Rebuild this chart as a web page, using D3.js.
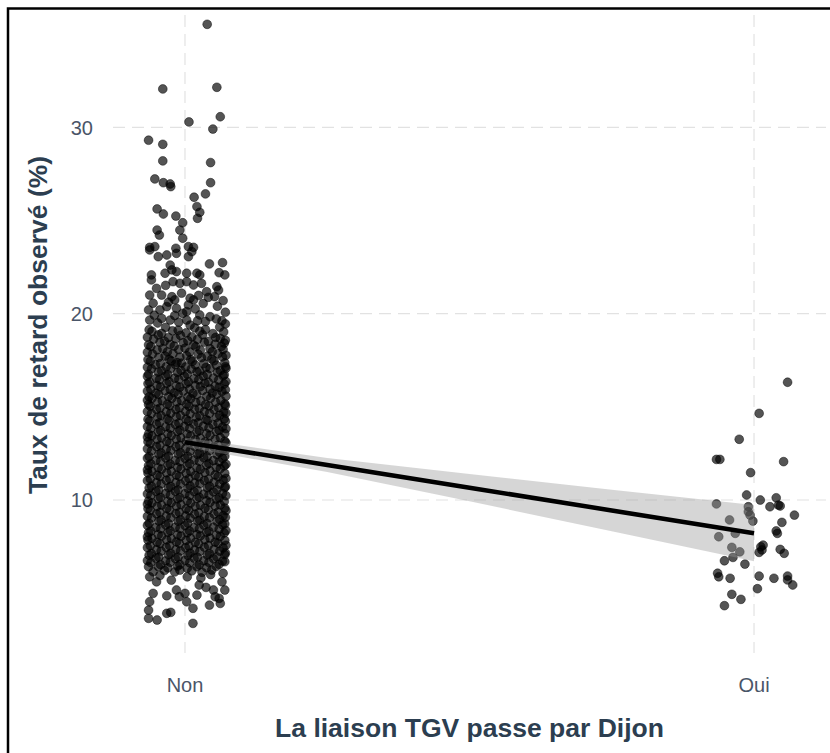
<!DOCTYPE html>
<html>
<head>
<meta charset="utf-8">
<script src="https://cdn.jsdelivr.net/npm/d3@7"></script>
<style>
  html, body { margin: 0; padding: 0; background: #fff; }
</style>
</head>
<body>
<div id="chart"></div>
<script>
// categories on the x axis (0 = Non, 1 = Oui)
var categories = ["Non", "Oui"];
var categoryX = [0, 1];
var yTicks = [10, 20, 30];

// jittered points, [x offset, taux de retard] -- Non, sparse upper tail
var nonUpper = [
  [0.039,35.53],[-0.039,32.06],[0.056,32.15],[0.062,30.57],[0.007,30.29],[0.049,29.91],[-0.064,29.31],[-0.039,29.09],
  [-0.039,28.2],[0.045,28.11],[-0.053,27.23],[-0.038,27.03],[-0.026,26.96],[-0.025,26.82],[0.045,27.03],[0.036,26.43],
  [0.016,26.25],[0.021,25.75],[0.026,25.44],[0.022,25.12],[-0.049,25.62],[-0.038,25.35],[-0.016,25.24],[-0.004,24.88],
  [-0.049,24.49],[-0.045,24.22],[-0.009,24.49],[-0.004,24.05],[-0.062,23.56],[-0.053,23.6],[-0.016,23.51],[0.006,23.6],
  [0.015,23.56],[-0.062,23.42],[-0.047,23.06],[-0.032,23.15],[-0.015,23.24],[0.006,23.06],[0.012,23.33],[-0.026,22.61],
  [-0.023,22.35],[0.043,22.67],[0.066,22.74],[-0.059,22.08],[-0.059,21.81],[-0.035,22.17],[-0.015,22.26],[0.003,22.17],
  [0.021,22.17],[0.026,22.08],[0.06,22.2],[0.07,22.08],[-0.021,21.72],[-0.009,21.63],[0.003,21.72],[0.015,21.54],
  [0.029,21.63],[0.056,21.45],[0.059,21.27],[-0.062,21.0],[-0.041,21.0],[-0.023,20.91],[-0.018,20.74],[0.009,20.83],
  [0.015,20.74],[0.041,20.88],[0.067,20.7],[-0.056,20.56],[-0.064,20.2],[-0.044,20.2],[-0.032,20.38],[-0.015,20.29],
  [0.006,20.47],[0.003,20.11],[0.026,19.93],[0.044,19.84],[0.065,19.62],[-0.062,19.66],[-0.041,19.75],[-0.026,19.66],
  [0.003,19.66],[0.009,19.39],
  // transition into the dense part
  [-0.05,21.36],[-0.034,21.52],[0.038,21.18],[-0.006,21.1],[0.024,20.98],[0.052,20.92],[-0.029,20.62],[0.032,20.55],
  [0.057,20.4],[-0.004,20.02],[0.018,20.26],[0.071,20.08],[-0.054,19.92],[-0.018,19.9],[0.036,19.58],[0.055,19.72],
  [-0.048,19.5],[-0.011,19.55],[0.071,19.45],[0.022,19.62]
];

// Non, dense core (estimated from the solid part of the cloud)
var nonCore = [
  [-0.063,19.14],[-0.034,19.27],[-0.012,19.11],[0.017,19.24],[0.036,19.15],[0.061,19.28],
  [-0.058,19.05],[-0.041,18.94],[-0.022,19.08],[0.002,18.97],[0.026,19.06],[0.049,18.93],[0.068,19.02],
  [-0.066,18.74],[-0.047,18.86],[-0.029,18.72],[-0.008,18.84],[0.012,18.76],[0.031,18.87],[0.054,18.73],
  [-0.055,18.64],[-0.036,18.53],[-0.016,18.66],[0.005,18.55],[0.022,18.62],[0.041,18.51],[0.062,18.67],[0.071,18.57],
  [-0.064,18.33],[-0.044,18.46],[-0.026,18.35],[-0.003,18.44],[0.015,18.32],[0.034,18.47],[0.053,18.36],[0.069,18.42],
  [-0.06,18.24],[-0.039,18.13],[-0.019,18.26],[0.0,18.15],[0.019,18.23],[0.044,18.12],[0.064,18.25],
  [-0.066,17.93],[-0.049,18.06],[-0.031,17.95],[-0.011,18.07],[0.008,17.94],[0.027,18.05],[0.048,17.96],[0.067,18.08],
  [-0.057,17.84],[-0.035,17.73],[-0.021,17.86],[0.003,17.75],[0.023,17.83],[0.039,17.72],[0.058,17.85],[0.072,17.76],
  [-0.065,17.54],[-0.046,17.66],[-0.028,17.55],[-0.009,17.67],[0.01,17.53],[0.029,17.64],[0.047,17.56],[0.066,17.68],
  [-0.061,17.45],[-0.043,17.33],[-0.024,17.46],[-0.006,17.35],[0.013,17.44],[0.033,17.32],[0.051,17.47],[0.07,17.36],[-0.014,17.38],
  [-0.066,17.13],[-0.052,17.26],[-0.033,17.15],[-0.017,17.27],[0.001,17.14],[0.018,17.25],[0.037,17.12],[0.055,17.24],[0.071,17.16],
  [-0.059,17.04],[-0.041,16.93],[-0.025,17.06],[-0.007,16.95],[0.011,17.03],[0.026,16.92],[0.044,17.05],[0.062,16.94],[0.072,17.07],
  [-0.064,16.75],[-0.047,16.87],[-0.03,16.73],[-0.013,16.85],[0.004,16.76],[0.021,16.88],[0.039,16.74],[0.057,16.86],[0.069,16.72],
  [-0.066,16.64],[-0.05,16.53],[-0.034,16.66],[-0.018,16.54],[-0.001,16.63],[0.016,16.51],[0.032,16.65],[0.05,16.55],[0.067,16.67],
  [-0.062,16.33],[-0.045,16.46],[-0.028,16.35],[-0.011,16.47],[0.006,16.34],[0.024,16.45],[0.041,16.32],[0.059,16.44],[0.072,16.36],
  [-0.065,16.25],[-0.049,16.14],[-0.032,16.26],[-0.015,16.13],[0.002,16.24],[0.018,16.15],[0.035,16.27],[0.053,16.12],[0.069,16.23],
  [-0.06,15.94],[-0.043,16.07],[-0.026,15.93],[-0.009,16.06],[0.008,15.95],[0.027,16.08],[0.044,15.96],[0.06,16.05],[0.071,15.92],
  [-0.066,15.85],[-0.051,15.73],[-0.035,15.86],[-0.019,15.75],[-0.003,15.84],[0.014,15.72],[0.031,15.87],[0.048,15.74],[0.065,15.83],
  [-0.063,15.54],[-0.046,15.66],[-0.029,15.55],[-0.012,15.67],[0.005,15.53],[0.021,15.65],[0.038,15.56],[0.056,15.68],[0.072,15.57],
  [-0.058,15.45],[-0.04,15.33],[-0.023,15.46],[-0.006,15.34],[0.01,15.44],[0.028,15.32],[0.045,15.47],[0.063,15.35],[-0.066,15.36],
  [-0.064,15.13],[-0.048,15.26],[-0.031,15.14],[-0.014,15.27],[0.003,15.15],[0.019,15.24],[0.036,15.12],[0.054,15.25],[0.07,15.16],
  [-0.061,15.04],[-0.044,14.93],[-0.027,15.06],[-0.01,14.94],[0.007,15.03],[0.025,14.92],[0.042,15.05],[0.059,14.95],[0.071,15.07],
  [-0.066,14.75],[-0.05,14.87],[-0.033,14.73],[-0.016,14.86],[0.001,14.76],[0.017,14.88],[0.034,14.74],[0.051,14.85],[0.068,14.72],
  [-0.059,14.64],[-0.042,14.53],[-0.025,14.66],[-0.008,14.54],[0.009,14.63],[0.026,14.52],[0.043,14.65],[0.061,14.55],[0.072,14.67],
  [-0.065,14.33],[-0.048,14.46],[-0.031,14.35],[-0.015,14.47],[0.002,14.34],[0.02,14.45],[0.037,14.32],[0.055,14.44],[0.069,14.36],
  [-0.062,14.25],[-0.045,14.14],[-0.028,14.26],[-0.011,14.13],[0.006,14.24],[0.023,14.15],[0.04,14.27],[0.058,14.12],[0.071,14.23],
  [-0.066,13.94],[-0.05,14.07],[-0.034,13.93],[-0.017,14.06],[-0.001,13.95],[0.015,14.08],[0.032,13.96],[0.049,14.05],[0.066,13.92],
  [-0.06,13.85],[-0.043,13.73],[-0.026,13.86],[-0.009,13.75],[0.008,13.84],[0.025,13.72],[0.042,13.87],[0.06,13.74],[0.072,13.83],
  [-0.064,13.54],[-0.047,13.66],[-0.03,13.55],[-0.013,13.67],[0.004,13.53],[0.021,13.65],[0.038,13.56],[0.055,13.68],[0.07,13.57],
  [-0.058,13.45],[-0.041,13.33],[-0.024,13.46],[-0.007,13.34],[0.01,13.44],[0.027,13.32],[0.044,13.47],[0.062,13.35],[-0.066,13.38],
  [-0.065,13.13],[-0.049,13.26],[-0.032,13.14],[-0.015,13.27],[0.002,13.15],[0.018,13.24],[0.035,13.12],[0.053,13.25],[0.07,13.16],
  [-0.061,13.04],[-0.044,12.93],[-0.027,13.06],[-0.01,12.94],[0.007,13.03],[0.024,12.92],[0.041,13.05],[0.058,12.95],[0.072,13.07],
  [-0.066,12.75],[-0.05,12.87],[-0.033,12.73],[-0.016,12.86],[0.001,12.76],[0.017,12.88],[0.034,12.74],[0.051,12.85],[0.067,12.72],
  [-0.059,12.64],[-0.042,12.53],[-0.025,12.66],[-0.008,12.54],[0.009,12.63],[0.026,12.52],[0.043,12.65],[0.061,12.55],[0.071,12.67],
  [-0.063,12.33],[-0.046,12.46],[-0.029,12.35],[-0.012,12.47],[0.005,12.34],[0.022,12.45],[0.039,12.32],[0.056,12.44],[0.07,12.36],
  [-0.066,12.25],[-0.051,12.14],[-0.034,12.26],[-0.017,12.13],[0.0,12.24],[0.016,12.15],[0.033,12.27],[0.05,12.12],[0.066,12.23],
  [-0.06,11.94],[-0.043,12.07],[-0.026,11.93],[-0.009,12.06],[0.008,11.95],[0.025,12.08],[0.042,11.96],[0.06,12.05],[0.072,11.92],
  [-0.064,11.85],[-0.047,11.73],[-0.03,11.86],[-0.013,11.75],[0.004,11.84],[0.021,11.72],[0.038,11.87],[0.055,11.74],[0.069,11.83],
  [-0.058,11.54],[-0.041,11.66],[-0.024,11.55],[-0.007,11.67],[0.01,11.53],[0.027,11.65],[0.044,11.56],[0.062,11.68],[-0.066,11.62],
  [-0.065,11.45],[-0.049,11.33],[-0.032,11.46],[-0.015,11.34],[0.002,11.44],[0.018,11.32],[0.035,11.47],[0.053,11.35],[0.07,11.43],
  [-0.061,11.13],[-0.044,11.26],[-0.027,11.14],[-0.01,11.27],[0.007,11.15],[0.024,11.24],[0.041,11.12],[0.058,11.25],[0.072,11.16],
  [-0.066,11.04],[-0.05,10.93],[-0.033,11.06],[-0.016,10.94],[0.001,11.03],[0.017,10.92],[0.034,11.05],[0.051,10.95],[0.067,11.07],
  [-0.059,10.75],[-0.042,10.87],[-0.025,10.73],[-0.008,10.86],[0.009,10.76],[0.026,10.88],[0.043,10.74],[0.061,10.85],[0.071,10.72],
  [-0.063,10.64],[-0.046,10.53],[-0.029,10.66],[-0.012,10.54],[0.005,10.63],[0.022,10.52],[0.039,10.65],[0.056,10.55],[0.07,10.67],
  [-0.066,10.33],[-0.051,10.46],[-0.034,10.35],[-0.017,10.47],[0.0,10.34],[0.016,10.45],[0.033,10.32],[0.05,10.44],[0.066,10.36],
  [-0.06,10.25],[-0.043,10.14],[-0.026,10.26],[-0.009,10.13],[0.008,10.24],[0.025,10.15],[0.042,10.27],[0.06,10.12],[0.072,10.23],
  [-0.064,9.94],[-0.047,10.07],[-0.03,9.93],[-0.013,10.06],[0.004,9.95],[0.021,10.08],[0.038,9.96],[0.055,10.05],[0.069,9.92],
  [-0.058,9.85],[-0.041,9.73],[-0.024,9.86],[-0.007,9.75],[0.01,9.84],[0.027,9.72],[0.044,9.87],[0.062,9.74],[-0.066,9.78],
  [-0.065,9.54],[-0.049,9.66],[-0.032,9.55],[-0.015,9.67],[0.002,9.53],[0.018,9.65],[0.035,9.56],[0.053,9.68],[0.07,9.57],
  [-0.061,9.45],[-0.044,9.33],[-0.027,9.46],[-0.01,9.34],[0.007,9.44],[0.024,9.32],[0.041,9.47],[0.058,9.35],[0.072,9.43],
  [-0.066,9.13],[-0.05,9.26],[-0.033,9.14],[-0.016,9.27],[0.001,9.15],[0.017,9.24],[0.034,9.12],[0.051,9.25],[0.067,9.16],
  [-0.059,9.04],[-0.042,8.93],[-0.025,9.06],[-0.008,8.94],[0.009,9.03],[0.026,8.92],[0.043,9.05],[0.061,8.95],[0.071,9.07],
  [-0.063,8.75],[-0.046,8.87],[-0.029,8.73],[-0.012,8.86],[0.005,8.76],[0.022,8.88],[0.039,8.74],[0.056,8.85],[0.07,8.72],
  [-0.066,8.64],[-0.051,8.53],[-0.034,8.66],[-0.017,8.54],[0.0,8.63],[0.016,8.52],[0.033,8.65],[0.05,8.55],[0.066,8.67],
  [-0.06,8.33],[-0.043,8.46],[-0.026,8.35],[-0.009,8.47],[0.008,8.34],[0.025,8.45],[0.042,8.32],[0.06,8.44],[0.072,8.36],
  [-0.064,8.25],[-0.047,8.14],[-0.03,8.26],[-0.013,8.13],[0.004,8.24],[0.021,8.15],[0.038,8.27],[0.055,8.12],[0.069,8.23],
  [-0.058,7.94],[-0.041,8.07],[-0.024,7.93],[-0.007,8.06],[0.01,7.95],[0.027,8.08],[0.044,7.96],[0.062,8.05],[-0.066,8.02],
  [-0.065,7.85],[-0.049,7.73],[-0.032,7.86],[-0.015,7.75],[0.002,7.84],[0.018,7.72],[0.035,7.87],[0.053,7.74],[0.07,7.83],
  [-0.061,7.54],[-0.044,7.66],[-0.027,7.55],[-0.01,7.67],[0.007,7.53],[0.024,7.65],[0.041,7.56],[0.058,7.68],[0.072,7.57],
  [-0.066,7.45],[-0.05,7.33],[-0.033,7.46],[-0.016,7.34],[0.001,7.44],[0.017,7.32],[0.034,7.47],[0.051,7.35],[0.067,7.43],
  [-0.059,7.13],[-0.042,7.26],[-0.025,7.14],[-0.008,7.27],[0.009,7.15],[0.026,7.24],[0.043,7.12],[0.061,7.25],[0.071,7.16],
  [-0.063,7.04],[-0.046,6.93],[-0.029,7.06],[-0.012,6.94],[0.005,7.03],[0.022,6.92],[0.039,7.05],[0.056,6.95],[0.07,7.07],
  [-0.066,6.75],[-0.051,6.87],[-0.034,6.73],[-0.017,6.86],[0.0,6.76],[0.016,6.88],[0.033,6.74],[0.05,6.85],[0.066,6.72],
  [-0.06,6.64],[-0.043,6.53],[-0.026,6.66],[-0.009,6.54],[0.008,6.63],[0.025,6.52],[0.042,6.65],[0.06,6.55],
  [-0.047,6.43],[-0.03,6.36],[-0.013,6.45],[0.004,6.34],[0.021,6.42],[0.038,6.37],[0.055,6.44],
  [-0.036,6.22],[-0.018,6.14],[0.012,6.2],[0.03,6.12],[0.047,6.24]
];

// Non, sparse lower tail
var nonLower = [
  [0.014,3.38],[-0.049,3.56],[-0.064,3.65],[-0.064,4.09],[-0.032,3.92],[-0.025,3.97],[-0.062,4.54],[-0.056,4.99],
  [-0.032,4.86],[0.014,4.19],[-0.01,4.81],[0.003,4.54],[0.043,4.36],[0.062,4.45],[0.06,4.72],[0.025,5.44],
  [0.037,5.31],[0.021,4.9],[0.05,5.17],[0.065,5.61],[0.07,5.17],[0.053,4.81],[-0.015,5.17],[0.0,4.99],
  [-0.062,5.88],[-0.05,5.61],[-0.064,6.42],[-0.056,6.15],[-0.009,6.24],[0.004,5.88],[0.067,6.07],[0.07,6.69],
  [-0.044,5.95],[0.028,5.82],[0.045,6.0],[-0.024,5.7]
];

// Oui
var ouiPoints = [
  [0.059,16.32],[0.009,14.65],[-0.026,13.26],[-0.066,12.18],[-0.06,12.18],[0.052,12.06],[-0.006,11.47],[-0.013,10.27],
  [0.011,10.0],[0.039,10.12],[0.043,9.73],[0.028,9.64],[0.046,9.68],[-0.066,9.79],[-0.01,9.64],[-0.01,9.37],
  [-0.007,9.19],[0.071,9.19],[-0.002,8.87],[-0.043,8.93],[0.049,8.8],[-0.033,8.21],[0.039,8.34],[0.041,8.21],
  [-0.062,8.03],[-0.039,7.46],[-0.025,7.22],[-0.037,6.92],[-0.052,6.74],[0.012,7.49],[0.014,7.32],[0.009,7.19],
  [0.016,7.58],[0.046,7.35],[0.053,7.14],[-0.016,6.56],[-0.064,6.07],[-0.062,5.88],[-0.042,5.8],[0.009,5.92],
  [0.035,5.8],[0.059,5.92],[0.059,5.71],[0.068,5.44],[0.006,5.24],[-0.039,4.94],[-0.023,4.67],[-0.052,4.33]
];

// linear fit and its confidence band
var fitX = [0, 0.25, 0.5, 0.75, 1];
var fitY = [13.1, 11.88, 10.66, 9.44, 8.22];
var fitLower = [12.85, 11.5, 9.93, 8.33, 6.71];
var fitUpper = [13.35, 12.26, 11.39, 10.55, 9.73];

var plotVariables = ({
  width: 830,
  height: 753,
  panelLeft: 113,
  panelRight: 826,
  panelTop: 15,
  panelBottom: 653,
  font: "'Liberation Sans', Arial, Helvetica, sans-serif",
  tickColor: "#4a5568",
  titleColor: "#2c3e50",
  gridColor: "#e2e2e2"
});

var svg = d3.select('#chart').append('svg')
  .attr('width', plotVariables.width)
  .attr('height', plotVariables.height);

// frame (top and left edges only)
svg.append('path')
  .attr('d', `M8,${plotVariables.height} V8.5 H${plotVariables.width}`)
  .attr('fill', 'none')
  .attr('stroke', '#000')
  .attr('stroke-width', 2.5);

// scales
var x = d3.scaleLinear()
  .domain([-0.1265, 1.1265])
  .range([plotVariables.panelLeft, plotVariables.panelRight]);

var y = d3.scaleLinear()
  .domain([1.79, 36.03])
  .range([plotVariables.panelBottom, plotVariables.panelTop]);

// grid
var grid = svg.append('g')
  .attr('stroke', plotVariables.gridColor)
  .attr('stroke-width', 1.2)
  .attr('stroke-dasharray', '12,7');

grid.selectAll('line.h')
  .data(yTicks)
  .join('line')
  .attr('class', 'h')
  .attr('x1', plotVariables.panelLeft)
  .attr('x2', plotVariables.panelRight)
  .attr('y1', d => y(d))
  .attr('y2', d => y(d));

grid.selectAll('line.v')
  .data(categoryX)
  .join('line')
  .attr('class', 'v')
  .attr('x1', d => x(d))
  .attr('x2', d => x(d))
  .attr('y1', plotVariables.panelTop)
  .attr('y2', plotVariables.panelBottom);

// points
var allPoints = []
  .concat(nonUpper.map(d => ({cat: 0, off: d[0], v: d[1]})))
  .concat(nonCore.map(d => ({cat: 0, off: d[0], v: d[1]})))
  .concat(nonLower.map(d => ({cat: 0, off: d[0], v: d[1]})))
  .concat(ouiPoints.map(d => ({cat: 1, off: d[0], v: d[1]})));

svg.append('g')
  .selectAll('circle')
  .data(allPoints)
  .join('circle')
  .attr('cx', d => x(categoryX[d.cat] + d.off))
  .attr('cy', d => y(d.v))
  .attr('r', 4.4)
  .attr('fill', '#000')
  .attr('fill-opacity', 0.67)
  .attr('stroke', '#000')
  .attr('stroke-opacity', 0.5)
  .attr('stroke-width', 0.9);

// confidence band + regression line
var fitData = fitX.map((d, i) => ({x: d, y: fitY[i], lo: fitLower[i], hi: fitUpper[i]}));

svg.append('path')
  .datum(fitData)
  .attr('d', d3.area().x(d => x(d.x)).y0(d => y(d.lo)).y1(d => y(d.hi)))
  .attr('fill', '#999999')
  .attr('fill-opacity', 0.4);

svg.append('path')
  .datum(fitData)
  .attr('d', d3.line().x(d => x(d.x)).y(d => y(d.y)))
  .attr('fill', 'none')
  .attr('stroke', '#000')
  .attr('stroke-width', 4.5);

// y tick labels
svg.append('g')
  .selectAll('text')
  .data(yTicks)
  .join('text')
  .attr('x', 93)
  .attr('y', d => y(d))
  .attr('dy', '0.36em')
  .attr('text-anchor', 'end')
  .attr('font-family', plotVariables.font)
  .attr('font-size', '20px')
  .attr('fill', plotVariables.tickColor)
  .text(d => d);

// x tick labels
svg.append('g')
  .selectAll('text')
  .data(categories)
  .join('text')
  .attr('x', (d, i) => x(categoryX[i]))
  .attr('y', 692)
  .attr('text-anchor', 'middle')
  .attr('font-family', plotVariables.font)
  .attr('font-size', '20px')
  .attr('fill', plotVariables.tickColor)
  .text(d => d);

// axis titles
svg.append('text')
  .attr('x', (plotVariables.panelLeft + plotVariables.panelRight) / 2)
  .attr('y', 737)
  .attr('text-anchor', 'middle')
  .attr('font-family', plotVariables.font)
  .attr('font-weight', 'bold')
  .attr('font-size', '26.5px')
  .attr('fill', plotVariables.titleColor)
  .text('La liaison TGV passe par Dijon');

svg.append('text')
  .attr('transform', 'translate(47, 325) rotate(-90)')
  .attr('text-anchor', 'middle')
  .attr('font-family', plotVariables.font)
  .attr('font-weight', 'bold')
  .attr('font-size', '26.5px')
  .attr('fill', plotVariables.titleColor)
  .text('Taux de retard observé (%)');
</script>
</body>
</html>
